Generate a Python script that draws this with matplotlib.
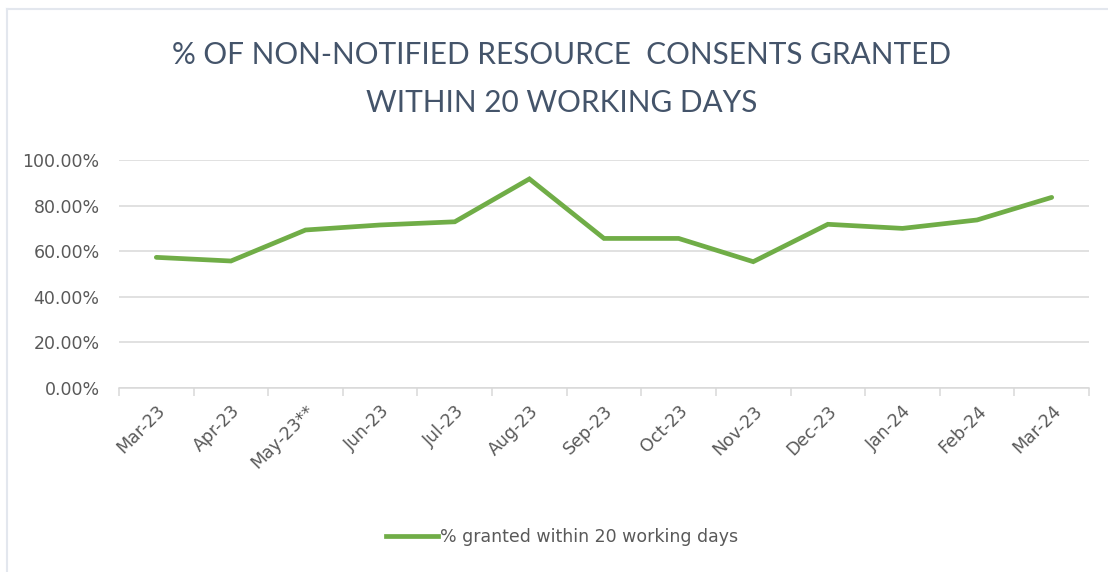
import matplotlib.pyplot as plt
from matplotlib.lines import Line2D
import numpy as np

months = ['Mar-23', 'Apr-23', 'May-23**', 'Jun-23', 'Jul-23', 'Aug-23', 'Sep-23',
          'Oct-23', 'Nov-23', 'Dec-23', 'Jan-24', 'Feb-24', 'Mar-24']
granted_pct = [57.3, 55.7, 69.3, 71.5, 72.9, 91.7, 65.6,
               65.6, 55.4, 71.8, 70.0, 73.7, 83.6]
y_ticks = [0, 20, 40, 60, 80, 100]

title_color = '#44546A'
text_color = '#595959'
grid_color = '#D9D9D9'
line_color = '#70AD47'

W, H = 1108, 572
fig = plt.figure(figsize=(W / 100, H / 100), dpi=100)

# axes box in pixel coords: left 119, right 1089, top 160, bottom 388
ax = fig.add_axes([119 / W, 1 - 388 / H, (1089 - 119) / W, (388 - 160) / H])

x = np.arange(len(months))
ax.plot(x, granted_pct, color=line_color, linewidth=3.4, solid_capstyle='round',
        solid_joinstyle='miter')

ax.set_xlim(-0.5, len(months) - 0.5)
ax.set_ylim(0, 100)
ax.set_yticks(y_ticks)
ax.set_yticklabels(['{:.2f}%'.format(v) for v in y_ticks])
ax.yaxis.grid(True, color=grid_color, linewidth=1.1)
ax.set_axisbelow(True)

# tick marks between categories, labels at category centres
ax.set_xticks(np.arange(-0.5, len(months), 1.0))
ax.set_xticklabels([])
ax.set_xticks(x, minor=True)
ax.set_xticklabels(months, minor=True, rotation=45, ha='right',
                   rotation_mode='anchor', fontsize=12.5, color=text_color)
ax.tick_params(axis='x', which='major', length=6, color=grid_color, width=1.1)
ax.tick_params(axis='x', which='minor', length=0, pad=10)
ax.tick_params(axis='y', length=0, pad=14, labelsize=12.5, labelcolor=text_color)

for side in ['top', 'right', 'left']:
    ax.spines[side].set_visible(False)
ax.spines['bottom'].set_color(grid_color)
ax.spines['bottom'].set_linewidth(1.1)

title_font = ['Lato', 'DejaVu Sans']
fig.text(562 / W, 1 - 55 / H, '% OF NON-NOTIFIED RESOURCE  CONSENTS GRANTED',
         ha='center', va='center', fontsize=21.4, color=title_color,
         family=title_font)
fig.text(562 / W, 1 - 103 / H, 'WITHIN 20 WORKING DAYS',
         ha='center', va='center', fontsize=21.4, color=title_color,
         family=title_font)

handle = Line2D([], [], color=line_color, linewidth=3.4)
fig.legend([handle], ['% granted within 20 working days'],
           loc='center', bbox_to_anchor=(562 / W, 1 - 537 / H),
           frameon=False, fontsize=12.5, labelcolor=text_color,
           handlelength=3.0, handletextpad=0.15)

# light chart border (top and left only visible)
fig.add_artist(Line2D([7 / W, 1], [1 - 9 / H, 1 - 9 / H], color='#E3E7EE', linewidth=1.5))
fig.add_artist(Line2D([7 / W, 7 / W], [0, 1 - 9 / H], color='#E3E7EE', linewidth=1.5))

fig.savefig('out.png', dpi=100)
